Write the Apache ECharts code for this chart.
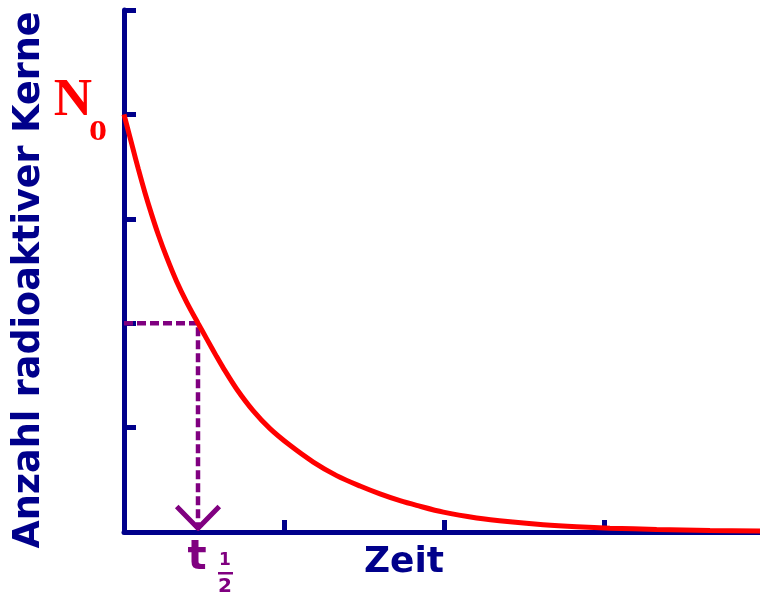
<!DOCTYPE html>
<html>
<head>
<meta charset="utf-8">
<script src="https://cdn.jsdelivr.net/npm/echarts@6/dist/echarts.min.js"></script>
<style>
  html, body { margin: 0; padding: 0; background: #ffffff; }
  #chart { width: 760px; height: 596px; }
</style>
</head>
<body>
<div id="chart"></div>
<script>
// Decay curve: time (in axis units) and number of radioactive nuclei
const timeValues   = [0, 0.017, 0.058, 0.089, 0.131, 0.173, 0.214, 0.267, 0.329, 0.392, 0.4625, 0.517, 0.579, 0.621, 0.704, 0.808, 0.9125, 1.0375, 1.183, 1.329, 1.475, 1.60, 1.725, 1.829, 1.996, 2.204, 2.4125, 2.62, 2.829, 3.0375, 3.329, 3.6625, 3.975];
const nucleiValues = [4.0, 3.90, 3.66, 3.48, 3.25, 3.04, 2.85, 2.63, 2.40, 2.20, 2.0, 1.85, 1.68, 1.57, 1.37, 1.16, 0.99, 0.83, 0.67, 0.54, 0.44, 0.365, 0.30, 0.255, 0.19, 0.135, 0.098, 0.07, 0.05, 0.036, 0.025, 0.015, 0.01];

// Tick positions on each axis
const timeTicks = [0, 1, 2, 3];
const nucleiTicks = [0, 1, 2, 3, 4, 5];

// Starting amount and half-life
const N0 = 4;
const halfLife = 0.4625;

// Axis ranges
const yMax = 5;
const xMax = 3.975;

const NAVY = '#00008B';
const PURPLE = '#800080';
const RED = '#FF0000';

const curve = timeValues.map((t, i) => [t, nucleiValues[i]]);

// Dashed guide: N0/2 on the y axis over to the curve, then down to the time axis
const guide = [[0, N0 / 2], [halfLife, N0 / 2], [halfLife, 0.05]];
// Open arrow head at the foot of the guide
const arrowHead = [[halfLife - 0.133, 0.245], [halfLife, 0.035], [halfLife + 0.133, 0.245]];

const chart = echarts.init(document.getElementById('chart'), null, { renderer: 'canvas' });

chart.setOption({
  animation: false,
  backgroundColor: '#ffffff',
  grid: { left: 124, right: 0, top: 10, bottom: 64, containLabel: false },
  xAxis: {
    type: 'value', min: 0, max: xMax,
    axisLine: { show: true, onZero: false, lineStyle: { color: NAVY, width: 5 } },
    axisTick: { show: true, inside: true, length: 12, customValues: timeTicks, lineStyle: { color: NAVY, width: 5 } },
    axisLabel: { show: false },
    splitLine: { show: false }
  },
  yAxis: {
    type: 'value', min: 0, max: yMax,
    axisLine: { show: true, onZero: false, lineStyle: { color: NAVY, width: 5 } },
    axisTick: { show: true, inside: true, length: 12, customValues: nucleiTicks, lineStyle: { color: NAVY, width: 5 } },
    axisLabel: { show: false },
    splitLine: { show: false }
  },
  series: [
    {
      name: 'Zerfall',
      type: 'line',
      data: curve,
      smooth: 0.3,
      showSymbol: false,
      lineStyle: { color: RED, width: 5 },
      z: 3
    },
    {
      name: 'Halbwertszeit',
      type: 'line',
      data: guide,
      showSymbol: false,
      lineStyle: { color: PURPLE, width: 4.5, type: [9, 4] },
      z: 2
    },
    {
      name: 'Pfeil',
      type: 'line',
      data: arrowHead,
      showSymbol: false,
      lineStyle: { color: PURPLE, width: 5, join: 'round' },
      z: 2
    }
  ],
  graphic: [
    {
      type: 'text', x: 30, y: 280, rotation: Math.PI / 2,
      style: {
        text: 'Anzahl radioaktiver Kerne',
        font: 'bold 36.5px "DejaVu Sans"', fill: NAVY,
        textAlign: 'center', textVerticalAlign: 'middle'
      }
    },
    {
      type: 'text', x: 404, y: 563,
      style: {
        text: 'Zeit', font: 'bold 36px "DejaVu Sans"', fill: NAVY,
        textAlign: 'center', textVerticalAlign: 'middle'
      }
    },
    {
      type: 'text', x: 73, y: 101,
      style: {
        text: 'N', font: 'bold 53px "Liberation Serif"', fill: RED,
        textAlign: 'center', textVerticalAlign: 'middle'
      }
    },
    {
      type: 'text', x: 98, y: 132, scaleX: 1.2,
      style: {
        text: '0', font: 'bold 30px "Liberation Serif"', fill: RED,
        textAlign: 'center', textVerticalAlign: 'middle'
      }
    },
    {
      type: 'text', x: 197, y: 559,
      style: {
        text: 't', font: 'bold 40px "DejaVu Sans"', fill: PURPLE,
        textAlign: 'center', textVerticalAlign: 'middle'
      }
    },
    {
      type: 'text', x: 225, y: 561,
      style: {
        text: '1', font: 'bold 17px "DejaVu Sans"', fill: PURPLE,
        textAlign: 'center', textVerticalAlign: 'middle'
      }
    },
    {
      type: 'rect', shape: { x: 218, y: 572, width: 15, height: 2.5 },
      style: { fill: PURPLE }
    },
    {
      type: 'text', x: 225, y: 587,
      style: {
        text: '2', font: 'bold 20px "DejaVu Sans"', fill: PURPLE,
        textAlign: 'center', textVerticalAlign: 'middle'
      }
    }
  ]
});
</script>
</body>
</html>
